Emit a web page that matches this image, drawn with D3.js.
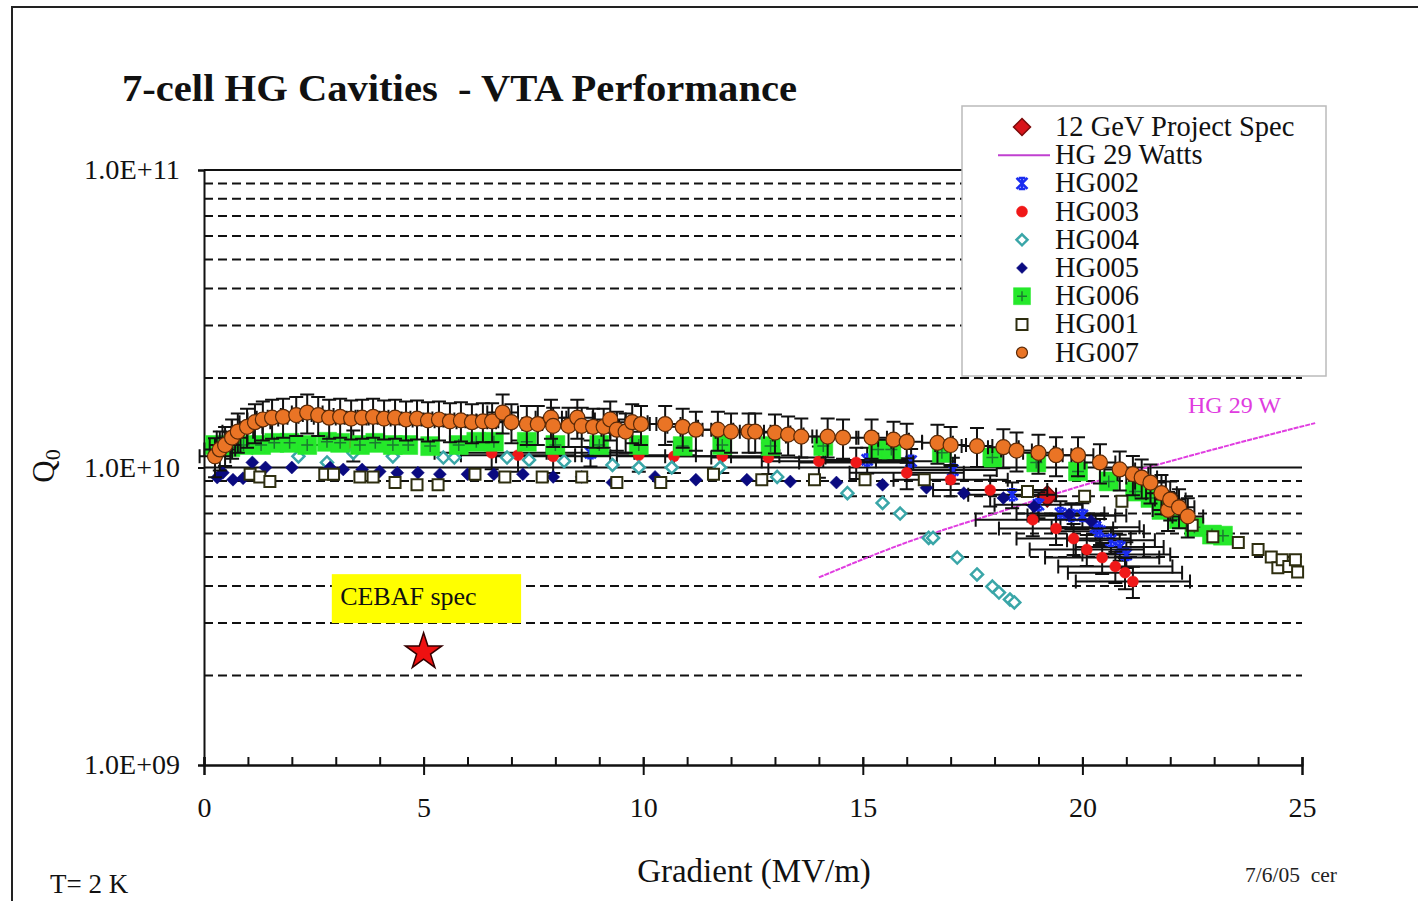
<!DOCTYPE html>
<html><head><meta charset="utf-8">
<script src="https://cdn.jsdelivr.net/npm/d3@7"></script>
<style>
html,body{margin:0;padding:0;background:#fff;}
svg{display:block;}
text{font-family:"Liberation Serif","Times New Roman",serif;white-space:pre;}
</style></head>
<body>
<svg id="chart" width="1418" height="901"></svg>
<script>
// ---------------- DATA ----------------
const xTickValues = [0, 5, 10, 15, 20, 25];
const xMinorTicks = [0,1,2,3,4,5,6,7,8,9,10,11,12,13,14,15,16,17,18,19,20,21,22,23,24,25];
const yTickValues = [1e9, 1e10, 1e11];
const yTickLabels = ["1.0E+09", "1.0E+10", "1.0E+11"];
const gridValues = [2e9,3e9,4e9,5e9,6e9,7e9,8e9,9e9,2e10,3e10,4e10,5e10,6e10,7e10,8e10,9e10];

const seriesNames = ["12 GeV Project Spec","HG 29 Watts","HG002","HG003","HG004","HG005","HG006","HG001","HG007"];

const spec12GeV = [[19.2, 8.0e9]];
const hg29Watts = [[14,4.27e9],[16,5.6e9],[18,7.0e9],[20,8.7e9],[22,1.05e10],[24,1.26e10],[25.3,1.41e10]];
const hg002 = [[8.8,1.12e10],[15.1,1.06e10],[16.1,1.05e10],[17.05,9.8e9],[18.4,8.1e9],[19.0,7.5e9],[19.5,7.0e9],[19.75,6.9e9],[20.0,6.9e9],[20.3,6.3e9],[20.4,6.1e9],[20.65,5.7e9],[20.85,5.4e9],[21.0,5.1e9]];
const hg003 = [[3.4,1.19e10],[6.55,1.12e10],[7.15,1.1e10],[7.95,1.09e10],[9.9,1.1e10],[10.7,1.09e10],[11.8,1.09e10],[12.85,1.08e10],[14.0,1.05e10],[14.85,1.04e10],[16.0,9.6e9],[17.0,9.1e9],[17.9,8.4e9],[18.87,6.68e9],[19.4,6.24e9],[19.8,5.77e9],[20.1,5.3e9],[20.45,4.98e9],[20.75,4.65e9],[20.97,4.43e9],[21.15,4.14e9]];
const hg004 = [[2.15,1.09e10],[2.8,1.04e10],[3.4,1.12e10],[4.3,1.09e10],[5.45,1.08e10],[5.7,1.08e10],[6.9,1.08e10],[7.4,1.06e10],[8.2,1.05e10],[9.3,1.02e10],[9.9,1.0e10],[10.65,1.0e10],[11.75,1.0e10],[13.05,9.3e9],[14.65,8.2e9],[15.45,7.6e9],[15.85,7.0e9],[16.5,5.8e9],[16.6,5.8e9],[17.15,4.98e9],[17.6,4.37e9],[17.95,3.98e9],[18.1,3.8e9],[18.35,3.6e9],[18.45,3.52e9]];
const hg005 = [[0.3,9.25e9],[0.43,9.6e9],[0.66,9.1e9],[0.89,9.2e9],[1.1,1.04e10],[1.4,1.0e10],[2.0,1.0e10],[2.87,1.0e10],[3.17,9.85e9],[3.6,9.85e9],[4.0,9.7e9],[4.4,9.6e9],[4.87,9.6e9],[5.37,9.5e9],[6.0,9.5e9],[6.6,9.5e9],[7.26,9.5e9],[7.95,9.3e9],[8.6,9.3e9],[9.3,8.9e9],[10.27,9.3e9],[11.2,9.1e9],[12.36,9.1e9],[13.35,8.97e9],[14.4,8.9e9],[15.45,8.75e9],[16.45,8.55e9],[17.3,8.2e9],[18.2,7.9e9],[18.9,7.4e9],[19.7,6.95e9],[20.2,6.6e9]];
const hg006 = [[0.25,1.19e10],[0.6,1.17e10],[0.9,1.19e10],[1.3,1.19e10],[1.6,1.21e10],[1.95,1.21e10],[2.35,1.19e10],[2.8,1.22e10],[3.1,1.21e10],[3.55,1.19e10],[3.9,1.21e10],[4.3,1.19e10],[4.65,1.19e10],[5.15,1.18e10],[5.8,1.19e10],[6.2,1.22e10],[6.6,1.22e10],[7.35,1.22e10],[8.0,1.19e10],[9.0,1.19e10],[9.9,1.19e10],[10.9,1.18e10],[11.8,1.19e10],[12.9,1.18e10],[14.1,1.18e10],[15.35,1.15e10],[15.65,1.15e10],[16.8,1.12e10],[17.95,1.08e10],[18.95,1.04e10],[19.9,9.7e9],[20.6,8.98e9],[21.2,8.3e9],[21.55,7.9e9],[21.8,7.2e9],[22.2,6.7e9],[22.55,6.3e9],[22.95,5.95e9],[23.2,5.9e9]];
const hg001 = [[1.05,9.5e9],[1.27,9.3e9],[1.5,8.97e9],[2.75,9.5e9],[2.95,9.5e9],[3.55,9.3e9],[3.85,9.3e9],[4.35,8.9e9],[4.85,8.75e9],[5.33,8.75e9],[6.17,9.5e9],[6.85,9.3e9],[7.7,9.3e9],[8.6,9.3e9],[9.4,8.9e9],[10.4,8.9e9],[11.6,9.5e9],[12.7,9.1e9],[13.9,9.1e9],[15.05,9.1e9],[16.4,9.1e9],[18.75,8.3e9],[20.05,8.0e9],[20.9,7.7e9],[22.5,6.4e9],[22.97,5.85e9],[23.55,5.6e9],[24.0,5.3e9],[24.3,5.0e9],[24.45,4.6e9],[24.55,4.9e9],[24.7,4.65e9],[24.85,4.9e9],[24.9,4.45e9]];
const hg007 = [[0.25,1.09e10],[0.36,1.15e10],[0.48,1.19e10],[0.64,1.26e10],[0.77,1.32e10],[0.98,1.37e10],[1.16,1.42e10],[1.34,1.45e10],[1.55,1.47e10],[1.8,1.48e10],[2.1,1.5e10],[2.35,1.53e10],[2.6,1.5e10],[2.85,1.47e10],[3.1,1.48e10],[3.35,1.46e10],[3.6,1.47e10],[3.85,1.48e10],[4.1,1.46e10],[4.35,1.47e10],[4.6,1.45e10],[4.85,1.46e10],[5.1,1.44e10],[5.35,1.45e10],[5.6,1.43e10],[5.85,1.44e10],[6.1,1.42e10],[6.35,1.43e10],[6.56,1.43e10],[6.8,1.53e10],[7.0,1.42e10],[7.35,1.4e10],[7.6,1.4e10],[7.9,1.47e10],[7.95,1.38e10],[8.3,1.38e10],[8.5,1.47e10],[8.6,1.38e10],[8.86,1.37e10],[9.1,1.37e10],[9.25,1.45e10],[9.4,1.34e10],[9.6,1.32e10],[9.75,1.42e10],[9.95,1.4e10],[10.5,1.4e10],[10.9,1.37e10],[11.2,1.34e10],[11.7,1.34e10],[12.0,1.32e10],[12.4,1.32e10],[12.55,1.32e10],[13.0,1.31e10],[13.3,1.29e10],[13.6,1.27e10],[14.2,1.27e10],[14.55,1.26e10],[15.2,1.26e10],[15.7,1.24e10],[16.0,1.22e10],[16.7,1.21e10],[17.0,1.19e10],[17.6,1.18e10],[18.2,1.17e10],[18.5,1.14e10],[19.0,1.12e10],[19.4,1.1e10],[19.9,1.1e10],[20.4,1.04e10],[20.85,9.85e9],[21.15,9.5e9],[21.35,9.25e9],[21.55,8.9e9],[21.8,8.2e9],[21.95,7.2e9],[22.0,7.8e9],[22.2,7.35e9],[22.4,6.85e9]];
const cebafSpec = [[5.0, 2.4e9]];
// error bar magnitudes per series: [x error (MV/m), relative Q error]
const errHG002 = [1.0, 0.10];
const errHG003 = [1.3, 0.12];
const errHG007 = [0.35, 0.15];

// ---------------- CHART ----------------
const svg = d3.select("#chart");
const x = d3.scaleLinear().domain([0, 25]).range([204, 1302]);
const y = d3.scaleLog().domain([1e9, 1e11]).range([765, 170]);

svg.append("rect").attr("width",1418).attr("height",901).attr("fill","#fff");
// outer frame
svg.append("rect").attr("x",12).attr("y",7).attr("width",1430).attr("height",920)
  .attr("fill","none").attr("stroke","#222").attr("stroke-width",2);

// title
svg.append("text").attr("x",122).attr("y",101).attr("font-size",37).attr("font-weight","bold")
  .attr("fill","#111").attr("textLength",675).attr("lengthAdjust","spacingAndGlyphs")
  .text("7-cell HG Cavities  - VTA Performance");

// gridlines
const grid = svg.append("g");
grid.selectAll("line.d").data(gridValues).join("line")
  .attr("x1",x(0)).attr("x2",x(25)).attr("y1",d=>y(d)).attr("y2",d=>y(d))
  .attr("stroke","#111").attr("stroke-width",2).attr("stroke-dasharray","9,5");
grid.selectAll("line.s").data([1e10,1e11]).join("line")
  .attr("x1",x(0)).attr("x2",x(25)).attr("y1",d=>y(d)).attr("y2",d=>y(d))
  .attr("stroke","#111").attr("stroke-width",2);

// axes
const xMinor = d3.axisBottom(x).tickValues(xMinorTicks).tickSize(-8).tickFormat("");
const gxm = svg.append("g").attr("transform",`translate(0,${y(1e9)})`).call(xMinor);
const xMajor = d3.axisBottom(x).tickValues(xTickValues).tickSize(10).tickPadding(22).tickFormat(d3.format("d"));
const gx = svg.append("g").attr("transform",`translate(0,${y(1e9)})`).call(xMajor);
gx.selectAll(".tick line").attr("y1",-8);
[gxm,gx].forEach(g=>{
  g.select(".domain").attr("stroke","#111").attr("stroke-width",2);
  g.selectAll(".tick line").attr("stroke","#111").attr("stroke-width",2);
});
gx.selectAll("text").attr("font-family","Liberation Serif").attr("font-size",28).attr("fill","#111");

const yAxis = d3.axisLeft(y).tickValues(yTickValues).tickSize(6).tickPadding(18)
  .tickFormat((d,i)=>yTickLabels[i]);
const gy = svg.append("g").attr("transform",`translate(${x(0)},0)`).call(yAxis);
gy.select(".domain").attr("stroke","#111").attr("stroke-width",2);
gy.selectAll(".tick line").attr("stroke","#111").attr("stroke-width",2);
gy.selectAll("text").attr("font-family","Liberation Serif").attr("font-size",27).attr("fill","#111")
  .attr("textLength",96).attr("lengthAdjust","spacingAndGlyphs");

// axis titles
svg.append("text").attr("transform","translate(54,466) rotate(-90)").attr("text-anchor","middle")
  .attr("font-size",31).attr("fill","#111")
  .html('Q<tspan font-size="22" dy="6">0</tspan>');
svg.append("text").attr("x",754).attr("y",882).attr("text-anchor","middle").attr("font-size",33)
  .attr("fill","#111").text("Gradient (MV/m)");
svg.append("text").attr("x",50).attr("y",893).attr("font-size",27).attr("fill","#111").text("T= 2 K");
svg.append("text").attr("x",1245).attr("y",882).attr("font-size",20).attr("fill","#222")
  .attr("textLength",92).attr("lengthAdjust","spacingAndGlyphs").text("7/6/05  cer");

// markers
function markerPath(type, s){
  const r = s/2;
  switch(type){
    case "diamond": return `M0,${-r}L${r},0L0,${r}L${-r},0Z`;
    case "square": return `M${-r},${-r}H${r}V${r}H${-r}Z`;
    case "circle": return d3.symbol(d3.symbolCircle, Math.PI*r*r)();
    case "xstar": return `M${-r},${-r}L${r},${r}M${-r},${r}L${r},${-r}M0,${-r}V${r}M${-r*0.6},${-r}H${r*0.6}M${-r*0.6},${r}H${r*0.6}`;
    case "star": return d3.symbol(d3.symbolStar, s*s*0.32)();
  }
}
const styles = {
  "12 GeV Project Spec": {type:"diamond", size:21, fill:"#d8141a", stroke:"#7a0a0a", sw:1.5},
  "HG002": {type:"xstar", size:11, fill:"none", stroke:"#1a2cf0", sw:2.5},
  "HG003": {type:"circle", size:11, fill:"#f01818", stroke:"#f01818", sw:0.5},
  "HG004": {type:"diamond", size:12, fill:"#fff", stroke:"#3aa6a8", sw:2.5},
  "HG005": {type:"diamond", size:13, fill:"#0a0a80", stroke:"#0a0a80", sw:0.5},
  "HG006": {type:"square", size:19, fill:"#25e82a", stroke:"#25e82a", sw:0.5, plus:true},
  "HG001": {type:"square", size:11, fill:"#fff", stroke:"#2e2e10", sw:2},
  "HG007": {type:"circle", size:15, fill:"#ea7425", stroke:"#5a2a08", sw:1.2}
};

function drawErrorBars(data, err){
  const g = svg.append("g").attr("stroke","#111").attr("stroke-width",2).attr("fill","none");
  data.forEach(([e,q])=>{
    const cx = x(e), cy = y(q);
    const yt = y(q*(1+err[1])), yb = y(q*(1-err[1]));
    const xl = x(e-err[0]), xr = x(e+err[0]);
    g.append("path").attr("d",`M${cx},${yt}V${yb}M${cx-7},${yt}H${cx+7}M${cx-7},${yb}H${cx+7}`);
    g.append("path").attr("d",`M${xl},${cy}H${xr}M${xl},${cy-7}V${cy+7}M${xr},${cy-7}V${cy+7}`);
  });
}
function drawSeries(name, data){
  const st = styles[name];
  const g = svg.append("g");
  g.selectAll("path").data(data).join("path")
    .attr("transform",d=>`translate(${x(d[0])},${y(d[1])})`)
    .attr("d",markerPath(st.type, st.size))
    .attr("fill",st.fill).attr("stroke",st.stroke).attr("stroke-width",st.sw);
  if(st.plus){
    g.selectAll("path.p").data(data).join("path").attr("class","p")
      .attr("transform",d=>`translate(${x(d[0])},${y(d[1])})`)
      .attr("d","M-6,0H6M0,-6V6").attr("stroke","#1a7a30").attr("stroke-width",1.5);
  }
}

// HG 29 W line
svg.append("path").datum(hg29Watts)
  .attr("d", d3.line().x(d=>x(d[0])).y(d=>y(d[1])).curve(d3.curveMonotoneX))
  .attr("fill","none").attr("stroke","#e03ce0").attr("stroke-width",2).attr("stroke-dasharray","5,1");
svg.append("text").attr("x",1188).attr("y",413).attr("font-size",24).attr("fill","#e03ce0").text("HG 29 W");

drawSeries("12 GeV Project Spec", spec12GeV);
drawErrorBars(hg002, errHG002);
drawSeries("HG002", hg002);
drawErrorBars(hg003, errHG003);
drawSeries("HG003", hg003);
drawSeries("HG004", hg004);
drawSeries("HG005", hg005);
drawSeries("HG006", hg006);
drawSeries("HG001", hg001);
drawErrorBars(hg007, errHG007);
drawSeries("HG007", hg007);

// CEBAF spec annotation
svg.append("rect").attr("x",x(2.91)).attr("y",y(4.38e9)).attr("width",x(7.22)-x(2.91))
  .attr("height",y(3.0e9)-y(4.38e9)).attr("fill","#ffff00");
svg.append("text").attr("x",x(3.1)).attr("y",y(3.45e9)).attr("font-size",26).attr("fill","#111").text("CEBAF spec");
svg.selectAll("path.star").data(cebafSpec).join("path").attr("class","star")
  .attr("transform",d=>`translate(${x(d[0])},${y(d[1])})`)
  .attr("d",markerPath("star",36)).attr("fill","#ee1111").attr("stroke","#300").attr("stroke-width",1.5);

// legend
const lg = svg.append("g");
lg.append("rect").attr("x",962).attr("y",106).attr("width",364).attr("height",270)
  .attr("fill","#fff").attr("stroke","#bbb").attr("stroke-width",1.5);
seriesNames.forEach((name,i)=>{
  const cy = 127 + i*28.2;
  if(name==="HG 29 Watts"){
    lg.append("line").attr("x1",998).attr("x2",1050).attr("y1",cy).attr("y2",cy)
      .attr("stroke","#c040d0").attr("stroke-width",2);
  } else {
    const st = styles[name];
    const sz = name==="12 GeV Project Spec" ? 17 : (name==="HG006" ? 17 : Math.min(st.size,11));
    lg.append("path").attr("transform",`translate(1022,${cy})`).attr("d",markerPath(st.type, sz))
      .attr("fill",st.fill).attr("stroke",st.stroke).attr("stroke-width",st.sw);
    if(st.plus) lg.append("path").attr("transform",`translate(1022,${cy})`).attr("d","M-5,0H5M0,-5V5")
      .attr("stroke","#1a7a30").attr("stroke-width",1.5);
  }
  lg.append("text").attr("x",1055).attr("y",cy+9).attr("font-size",28.5).attr("fill","#111").text(name);
});
</script>
</body></html>
